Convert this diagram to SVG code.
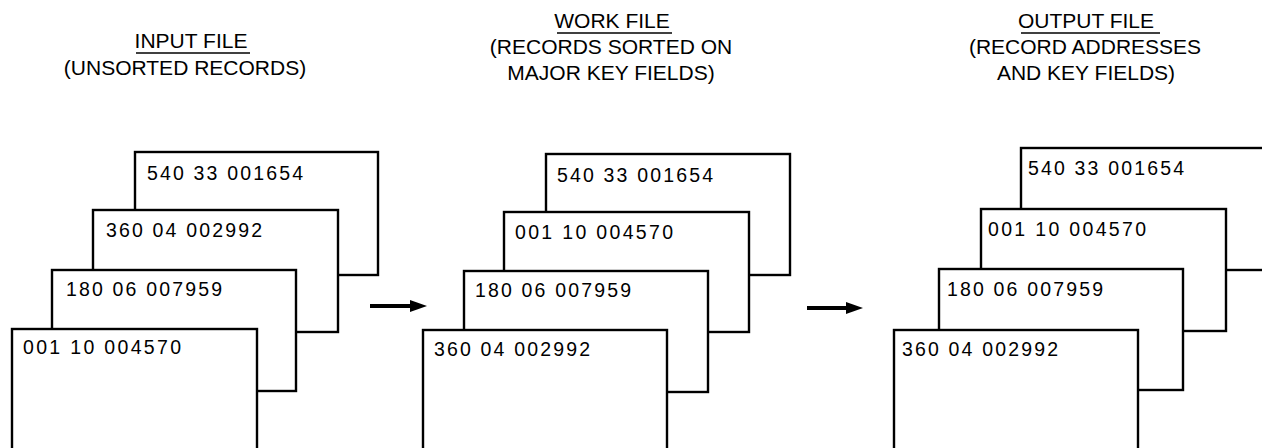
<svg xmlns="http://www.w3.org/2000/svg" width="1262" height="448" viewBox="0 0 1262 448">
<style>
.bg{fill:#ffffff}
.card{fill:#ffffff;stroke:#000000;stroke-width:2.4}
.title{font-family:"Liberation Sans",Arial,sans-serif;font-size:21px;fill:#000000;text-anchor:middle}
.rec{font-family:"Liberation Sans",Arial,sans-serif;font-size:19.5px;fill:#000000}
.ul{stroke:#000000;stroke-width:1.6}
.arrow{stroke:#000000;stroke-width:4;fill:none}
</style>
<defs>
<marker id="head" viewBox="0 0 17 12" markerWidth="17" markerHeight="12" markerUnits="userSpaceOnUse" refX="4" refY="6" orient="auto">
<path d="M0,0 L17,6 L0,12 z" fill="#000000"/>
</marker>
</defs>
<rect class="bg" x="0" y="0" width="1262" height="448"/>

<g id="title-input">
<text class="title" x="191" y="48">INPUT FILE</text>
<line class="ul" x1="136" y1="53" x2="250" y2="53"/>
<text class="title" x="185" y="75">(UNSORTED RECORDS)</text>
</g>
<g id="title-work">
<text class="title" x="612" y="28">WORK FILE</text>
<line class="ul" x1="557" y1="33" x2="672" y2="33"/>
<text class="title" x="611" y="54">(RECORDS SORTED ON</text>
<text class="title" x="611" y="80">MAJOR KEY FIELDS)</text>
</g>
<g id="title-output">
<text class="title" x="1086" y="28">OUTPUT FILE</text>
<line class="ul" x1="1021" y1="33" x2="1160" y2="33"/>
<text class="title" x="1085" y="54">(RECORD ADDRESSES</text>
<text class="title" x="1086" y="80">AND KEY FIELDS)</text>
</g>

<g id="input-stack">
<g id="in-540"><rect class="card" x="135" y="152" width="243" height="123"/><text class="rec" x="147" y="180" textLength="156" lengthAdjust="spacing">540 33 001654</text></g>
<g id="in-360"><rect class="card" x="93" y="210" width="245" height="122"/><text class="rec" x="106" y="237" textLength="156" lengthAdjust="spacing">360 04 002992</text></g>
<g id="in-180"><rect class="card" x="52" y="270" width="244" height="121"/><text class="rec" x="66" y="296" textLength="156" lengthAdjust="spacing">180 06 007959</text></g>
<g id="in-001"><rect class="card" x="12" y="329" width="245" height="130"/><text class="rec" x="23" y="354" textLength="158" lengthAdjust="spacing">001 10 004570</text></g>
</g>

<g id="work-stack">
<g id="wk-540"><rect class="card" x="546" y="154" width="244" height="121"/><text class="rec" x="557" y="182" textLength="156" lengthAdjust="spacing">540 33 001654</text></g>
<g id="wk-001"><rect class="card" x="504" y="212" width="245" height="120"/><text class="rec" x="515" y="239" textLength="158" lengthAdjust="spacing">001 10 004570</text></g>
<g id="wk-180"><rect class="card" x="464" y="271" width="244" height="121"/><text class="rec" x="475" y="297" textLength="156" lengthAdjust="spacing">180 06 007959</text></g>
<g id="wk-360"><rect class="card" x="423" y="330" width="244" height="130"/><text class="rec" x="434" y="356" textLength="156" lengthAdjust="spacing">360 04 002992</text></g>
</g>

<g id="output-stack">
<g id="out-540"><rect class="card" x="1021" y="148" width="250" height="122"/><text class="rec" x="1028" y="175" textLength="156" lengthAdjust="spacing">540 33 001654</text></g>
<g id="out-001"><rect class="card" x="981" y="209" width="245" height="122"/><text class="rec" x="988" y="236" textLength="158" lengthAdjust="spacing">001 10 004570</text></g>
<g id="out-180"><rect class="card" x="939" y="269" width="244" height="121"/><text class="rec" x="947" y="296" textLength="156" lengthAdjust="spacing">180 06 007959</text></g>
<g id="out-360"><rect class="card" x="894" y="330" width="244" height="130"/><text class="rec" x="902" y="356" textLength="156" lengthAdjust="spacing">360 04 002992</text></g>
</g>

<g id="connectors">
<line class="arrow" x1="370" y1="306" x2="414" y2="306" marker-end="url(#head)"/>
<line class="arrow" x1="807" y1="308" x2="850" y2="308" marker-end="url(#head)"/>
</g>
</svg>
